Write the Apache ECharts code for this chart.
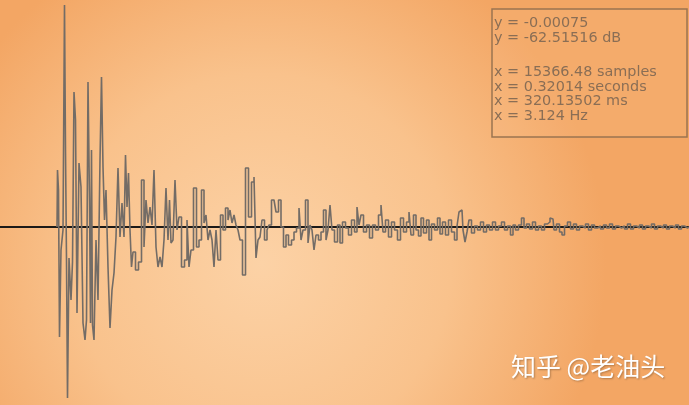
<!DOCTYPE html>
<html>
<head>
    <meta charset="utf-8">
    <script src="https://cdn.jsdelivr.net/npm/echarts@6/dist/echarts.min.js"></script>
    <style>
        html, body { margin: 0; padding: 0; }
        #main { width: 689px; height: 405px; }
    </style>
</head>
<body>
    <div id="main"></div>

    <script type="text/javascript">
        // waveform, time (ms-ish) and amplitude, split in segments
        var attackT = [57, 58, 59, 60, 62, 64, 65, 66, 67, 68, 70, 72, 73, 75, 76, 78, 80, 82, 84, 86, 87, 89, 90, 91, 92, 93, 95, 97, 99, 101, 102, 104, 105, 107, 109, 111, 113, 115, 117, 119, 121, 123, 125, 126, 128, 129, 131, 132, 134, 137, 140, 143, 145, 147, 149, 151, 153, 155, 157, 159, 161, 163, 165, 167, 169, 170, 172, 174, 176, 178, 180, 183, 186, 188, 190, 192, 195, 198, 200, 203, 205];
        var attackA = [0, 57, 37, -110, -23, -3, 222, 77, -33, -171, -31, -73, -35, 135, 107, -86, 64, 40, -96, -113, -93, 145, 27, -96, 77, -98, -113, -13, -73, 67, 150, 60, 7, 37, -40, -101, -63, -46, -10, 59, -10, 24, -10, 72, 20, 54, -3, -40, -25, -43, -35, 47, -20, 27, 4, 20, 2, 57, -20, -40, -30, -40, -13, 39, -13, 27, -16, -13, 47, -3, 10, -40, -33, 7, -40, -23, 39, -20, -13, 37, 4];

        var decayT = [207, 209, 211, 213, 215, 217, 219, 222, 224, 227, 229, 231, 233, 235, 237, 239, 241, 244, 247, 250, 253, 255, 257, 259, 261, 263, 266, 268, 270, 273, 275, 277, 280, 282, 285, 287, 290, 293, 295, 298, 300, 302, 304, 307, 309, 311, 313, 315, 317, 320, 322, 325, 327, 329];
        var decayA = [12, -13, -3, -13, -40, -3, -33, 12, -3, 19, 7, 17, 4, 12, 2, -3, -13, -48, 59, 10, 45, 50, -31, -13, -10, 7, -13, -3, 2, 27, 29, 15, 27, 0, -20, -8, -18, -13, -5, -1, 19, -13, -3, 27, -16, 2, -3, -23, -8, -13, -5, 17, -13, -3];

        var tailT = [331, 333, 336, 339, 341, 344, 347, 350, 353, 356, 358, 360, 362, 365, 368, 371, 374, 377, 380, 382, 384, 387, 390, 393, 396, 399, 402, 405, 408, 410, 412, 415, 417, 420, 422, 425, 428, 430, 433, 436, 439, 441, 444, 447, 450, 453, 456, 458, 460, 462, 464, 466, 468, 470, 473, 476, 479, 482, 485, 488, 491, 494, 497, 500];
        var tailA = [22, -3, -15, 2, -16, 5, -1, -8, 7, -5, 20, 2, 12, -5, 2, -11, 2, -3, 12, 22, -5, 7, -10, 5, -3, -13, 9, -5, 5, 15, -8, 12, -3, -9, 9, -6, 7, -13, 3, -3, 9, -7, 5, -8, 7, -5, -13, 1, 15, 17, -3, -15, -5, 7, -6, 1, -3, 5, -5, 2, -3, 5, -3, 1];

        var noiseT = [503, 506, 509, 512, 514, 517, 520, 523, 525, 528, 531, 534, 537, 540, 543, 546, 549, 551, 553, 555, 558, 561, 563, 566, 569, 572, 575, 578, 581, 584, 587, 590, 593, 596, 599, 602, 605, 608, 611, 614, 617, 620, 623, 626, 629, 632, 635, 638, 641, 644, 647, 650, 653, 656, 659, 662, 665, 668, 671, 674, 677, 680, 683, 686, 689];
        var noiseA = [5, -3, 1, -8, 2, -3, 2, 9, -1, 3, -2, 5, -3, 1, -3, 3, 5, 9, 8, -3, 3, -5, -8, 1, 5, -2, 3, -3, 1, -1, 3, -3, 2, -1, 1, -2, 2, -1, 3, -2, 1, -1, 1, -2, 3, -2, 1, -1, 2, -2, 1, -1, 3, -2, 1, -1, 2, -2, 1, -1, 2, -2, 1, -1, 0];

        var readoutY = ['y = -0.00075', 'y = -62.51516 dB'];
        var readoutX = ['x = 15366.48 samples', 'x = 0.32014 seconds', 'x = 320.13502 ms', 'x = 3.124 Hz'];

        var wave = [];
        [[attackT, attackA], [decayT, decayA], [tailT, tailA], [noiseT, noiseA]].forEach(function (seg) {
            for (var i = 0; i < seg[0].length; i++) {
                wave.push([seg[0][i], seg[1][i]]);
            }
        });

        var myChart = echarts.init(document.getElementById('main'));

        myChart.setOption({
            animation: false,
            grid: { left: 0, right: 0, top: 0, bottom: 0 },
            xAxis: {
                type: 'value',
                min: 0,
                max: 689,
                axisLine: { show: true, onZero: true, lineStyle: { color: '#1c1a18', width: 2 } },
                axisTick: { show: false },
                axisLabel: { show: false },
                splitLine: { show: false }
            },
            yAxis: {
                type: 'value',
                min: -178,
                max: 227,
                axisLine: { show: false },
                axisTick: { show: false },
                axisLabel: { show: false },
                splitLine: { show: false }
            },
            graphic: [
                {
                    type: 'rect',
                    z: -10,
                    silent: true,
                    shape: { x: 0, y: 0, width: 689, height: 405 },
                    style: {
                        fill: new echarts.graphic.RadialGradient(0.38, 0.65, 0.85, [
                            { offset: 0, color: '#fcd2a6' },
                            { offset: 0.55, color: '#f9c28c' },
                            { offset: 1, color: '#f3a664' }
                        ])
                    }
                },
                {
                    type: 'rect',
                    shape: { x: 492, y: 9, width: 195, height: 128 },
                    style: { fill: 'rgba(255,220,180,0.10)', stroke: '#9a7450', lineWidth: 1.5 }
                },
                {
                    type: 'text',
                    left: 494,
                    top: 16,
                    style: {
                        text: readoutY.join('\n'),
                        fill: '#8a6e55',
                        font: '14.4px "DejaVu Sans"',
                        lineHeight: 15
                    }
                },
                {
                    type: 'text',
                    left: 494,
                    top: 65,
                    style: {
                        text: readoutX.join('\n'),
                        fill: '#8a6e55',
                        font: '14.4px "DejaVu Sans"',
                        lineHeight: 14.6
                    }
                },
                {
                    type: 'text',
                    left: 511,
                    top: 354,
                    style: {
                        text: '知乎 @老油头',
                        fill: '#ffffff',
                        font: '25px "Noto Sans CJK SC"',
                        textShadowColor: 'rgba(90,60,30,0.45)',
                        textShadowBlur: 2,
                        textShadowOffsetX: 1,
                        textShadowOffsetY: 1
                    }
                }
            ],
            series: [{
                type: 'line',
                data: wave,
                step: 'middle',
                symbol: 'none',
                lineStyle: { color: '#736c66', width: 1.6 },
                z: 3
            }]
        });
    </script>
</body>
</html>
